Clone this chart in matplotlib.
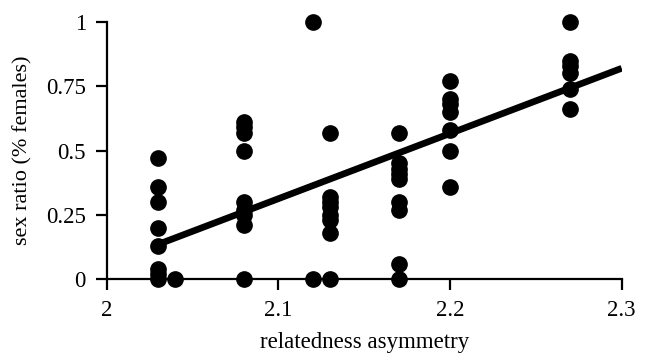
import numpy as np
import matplotlib
matplotlib.use("Agg")
import matplotlib.pyplot as plt

plt.rcParams['font.family'] = ['Liberation Serif', 'DejaVu Serif']

# points, one list per asymmetry value
x_203 = [0.47, 0.36, 0.30, 0.20, 0.13, 0.04, 0.02, 0.0]
x_204 = [0.0]
x_208 = [0.61, 0.59, 0.57, 0.50, 0.30, 0.27, 0.25, 0.21, 0.0]
x_212 = [1.0, 0.0]
x_213 = [0.57, 0.32, 0.30, 0.28, 0.25, 0.23, 0.18, 0.0]
x_217 = [0.57, 0.45, 0.43, 0.41, 0.39, 0.30, 0.27, 0.06, 0.0]
x_220 = [0.77, 0.70, 0.68, 0.65, 0.58, 0.50, 0.36]
x_227 = [1.0, 0.85, 0.83, 0.80, 0.74, 0.66]

groups = [(2.03, x_203), (2.04, x_204), (2.08, x_208), (2.12, x_212),
          (2.13, x_213), (2.17, x_217), (2.20, x_220), (2.27, x_227)]

fit_x = [2.03, 2.30]
fit_y = [0.135, 0.82]

xs = np.concatenate([[gx] * len(v) for gx, v in groups])
ys = np.concatenate([v for gx, v in groups])

fig = plt.figure(figsize=(6.51, 3.55), dpi=100)
ax = fig.add_axes([0.164, 0.214, 0.791, 0.724])

ax.plot(xs, ys, 'o', color='black', markersize=11, clip_on=False, zorder=3)
ax.plot(fit_x, fit_y, '-', color='black', linewidth=4.8, solid_capstyle='butt', zorder=4)

ax.set_xlim(2.0, 2.3)
ax.set_ylim(0, 1)
ax.set_xticks([2.0, 2.1, 2.2, 2.3])
ax.set_xticklabels(['2', '2.1', '2.2', '2.3'])
ax.set_yticks([0, 0.25, 0.5, 0.75, 1])
ax.set_yticklabels(['0', '0.25', '0.5', '0.75', '1'])

for s in ['top', 'right']:
    ax.spines[s].set_visible(False)
for s in ['left', 'bottom']:
    ax.spines[s].set_linewidth(1.6)

ax.tick_params(axis='both', direction='out', length=8, width=1.6, labelsize=16.5, pad=7)
ax.set_xlabel('relatedness asymmetry', fontsize=16.5, labelpad=8)
ax.set_ylabel('sex ratio (% females)', fontsize=16, labelpad=10)

fig.savefig('out.png', dpi=100)
